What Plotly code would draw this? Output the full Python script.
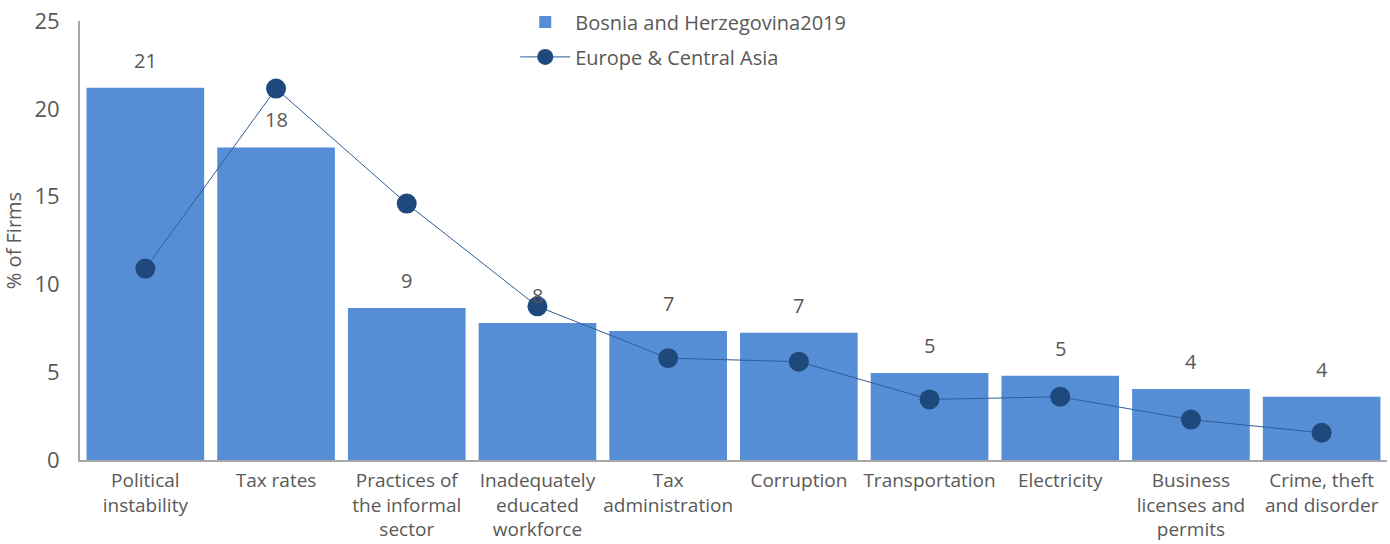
import plotly.graph_objects as go

categories = ["Political<br>instability", "Tax rates", "Practices of<br>the informal<br>sector",
              "Inadequately<br>educated<br>workforce", "Tax<br>administration", "Corruption",
              "Transportation", "Electricity", "Business<br>licenses and<br>permits",
              "Crime, theft<br>and disorder"]
bih_2019 = [21.2, 17.8, 8.65, 7.8, 7.35, 7.25, 4.95, 4.8, 4.05, 3.6]
eca = [10.9, 21.15, 14.6, 8.75, 5.8, 5.6, 3.45, 3.6, 2.3, 1.55]
y_ticks = [0, 5, 10, 15, 20, 25]

font_family = "Open Sans, Noto Sans, sans-serif"
text_color = "#595959"

fig = go.Figure()
fig.add_trace(go.Bar(
    x=categories, y=bih_2019, name="Bosnia and Herzegovina2019", legendgroup="a",
    marker=dict(color="#558ED5", line=dict(width=0)),
))
fig.add_trace(go.Scatter(
    x=categories, y=eca, name="Europe & Central Asia", mode="lines+markers", legendgroup="b",
    line=dict(color="#2F5D97", width=1),
    marker=dict(color="#1F497D", size=20),
))

annotations = [
    dict(x=c, y=v, text=f"{v:.0f}", showarrow=False, yanchor="bottom", yshift=12,
         font=dict(size=20, color=text_color, family=font_family))
    for c, v in zip(categories, bih_2019)
]

fig.update_layout(
    width=1390, height=544,
    margin=dict(l=80, r=3, t=20, b=84),
    plot_bgcolor="white", paper_bgcolor="white",
    bargap=0.1,
    font=dict(family=font_family, size=18, color=text_color),
    showlegend=True,
    legend=dict(x=0.333, y=1.04, xanchor="left", yanchor="top",
                font=dict(size=20, color=text_color), bgcolor="rgba(0,0,0,0)",
                itemwidth=50, tracegroupgap=6),
    annotations=annotations,
    xaxis=dict(showline=True, linecolor="#A6A6A6", linewidth=2, ticks="", automargin=False,
               range=[-0.5, len(categories) - 0.5], ticklabelstandoff=2,
               tickfont=dict(size=19, color=text_color), showgrid=False),
    yaxis=dict(range=[0, 25], tickvals=y_ticks, showline=True, linecolor="#A6A6A6",
               linewidth=2, showgrid=False, ticks="", zeroline=False, automargin=False,
               ticklabelstandoff=14,
               tickfont=dict(size=22, color=text_color),
               title=dict(text="% of Firms", font=dict(size=20, color=text_color))),
)

fig.write_html("out.html", config={"displayModeBar": False},
               post_script="document.body.style.margin='0';document.body.style.padding='0';")
